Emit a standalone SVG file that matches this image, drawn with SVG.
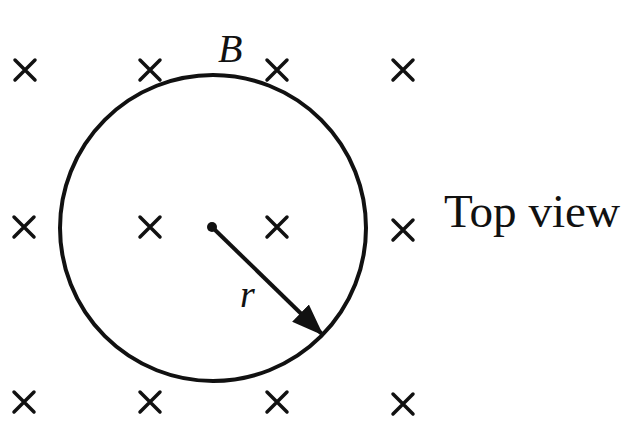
<svg xmlns="http://www.w3.org/2000/svg" width="625" height="422" viewBox="0 0 625 422">
<defs>
<style>
.x{stroke:#111;stroke-width:3.5;stroke-linecap:round;fill:none}
.lbl{font-family:"Liberation Serif",serif;fill:#111}
</style>
<marker id="ah" markerWidth="8" markerHeight="6" refX="7.5" refY="3" orient="auto" markerUnits="strokeWidth"><path d="M0,0 L8,3 L0,6 Z" fill="#111"/></marker>
<symbol id="cross" overflow="visible"><path class="x" d="M-10,-10 L10,10 M10,-10 L-10,10"/></symbol>
</defs>
<rect width="625" height="422" fill="#fff"/>
<g id="field">
<use href="#cross" x="25" y="70"/><use href="#cross" x="150" y="70"/><use href="#cross" x="277" y="70"/><use href="#cross" x="403" y="70"/>
<use href="#cross" x="24" y="227"/><use href="#cross" x="150" y="227"/><use href="#cross" x="277" y="227"/><use href="#cross" x="403" y="230"/>
<use href="#cross" x="24" y="402"/><use href="#cross" x="150" y="402"/><use href="#cross" x="277" y="402"/><use href="#cross" x="403" y="404"/>
</g>
<g id="loop">
<circle cx="213" cy="228" r="153" fill="none" stroke="#111" stroke-width="4"/>
<circle cx="212" cy="227" r="5" fill="#111"/>
</g>
<g id="connectors">
<line x1="212" y1="227" x2="322" y2="334" stroke="#111" stroke-width="4" marker-end="url(#ah)"/>
</g>
<g id="labels">
<text class="lbl" x="218" y="62" font-size="40" font-style="italic">B</text>
<text class="lbl" x="240" y="307" font-size="38" font-style="italic">r</text>
<text class="lbl" x="444" y="227" font-size="46" textLength="176" lengthAdjust="spacingAndGlyphs">Top view</text>
</g>
</svg>
